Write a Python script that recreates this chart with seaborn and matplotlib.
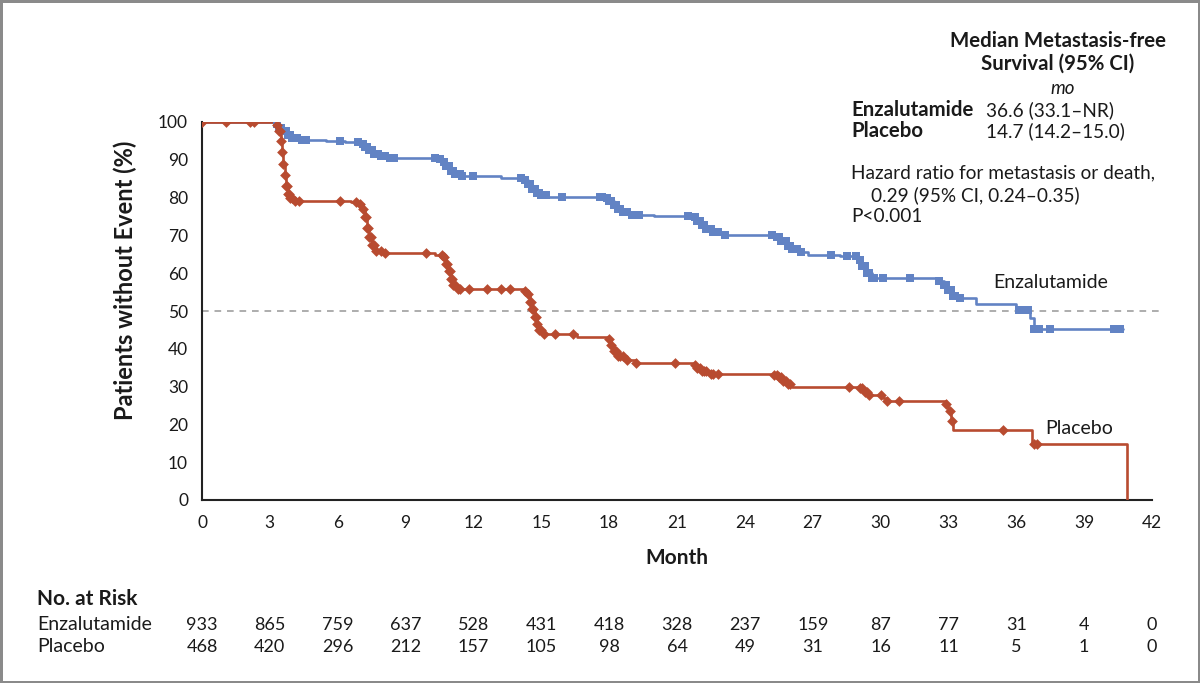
import numpy as np
import pandas as pd
import matplotlib
matplotlib.use("Agg")
import matplotlib.pyplot as plt
import seaborn as sns

# ---------------- data ----------------
enz_t = [0, 3.2, 3.4, 3.6, 3.8, 4.0, 4.3, 5.5, 6.3, 7.0, 7.2, 7.4, 7.6, 7.9, 8.2,
         10.4, 10.6, 10.8, 11.0, 11.2, 11.5, 13.2, 14.2, 14.4, 14.6, 14.8, 15.0, 15.3,
         17.8, 18.0, 18.2, 18.4, 18.6, 19.0, 20.0, 21.6, 21.9, 22.1, 22.3, 22.6, 23.0,
         24.5, 25.3, 25.6, 25.9, 26.1, 26.4, 26.8, 28.2, 29.0, 29.2, 29.4, 29.6,
         32.6, 32.8, 33.0, 33.2, 33.4, 34.2, 36.0, 36.6, 36.8, 40.7]
enz_s = [100, 99.5, 98.5, 97.5, 96.5, 95.8, 95.3, 95.0, 94.6, 94.3, 93.5, 92.5, 91.6, 91.0, 90.6,
         90.3, 89.5, 88.3, 87.0, 86.2, 85.8, 85.3, 84.7, 83.5, 82.3, 81.3, 80.6, 80.2,
         79.8, 79.0, 78.0, 77.0, 76.2, 75.5, 75.2, 74.9, 73.8, 72.8, 71.8, 71.0, 70.2,
         70.0, 69.6, 68.5, 67.3, 66.3, 65.5, 64.9, 64.5, 63.5, 62.0, 60.0, 58.8,
         58.0, 57.0, 55.5, 54.0, 53.4, 51.9, 50.3, 48.2, 45.2, 45.2]

plc_t = [0, 3.2, 3.4, 3.5, 3.55, 3.6, 3.65, 3.7, 3.8, 3.9, 4.1, 6.6, 7.0, 7.1, 7.2, 7.3, 7.4,
         7.5, 7.7, 8.0, 10.3, 10.7, 10.8, 10.9, 11.0, 11.1, 11.3, 14.3, 14.4, 14.5, 14.6,
         14.7, 14.8, 14.9, 15.1, 16.6, 18.0, 18.1, 18.2, 18.4, 18.7, 19.2, 21.8, 21.9,
         22.1, 22.4, 25.3, 25.5, 25.7, 25.9, 26.1, 29.1, 29.3, 29.5, 30.1, 30.3, 32.9,
         33.0, 33.1, 33.2, 36.7, 40.9, 40.9]
plc_s = [100, 99.3, 97.5, 95, 92, 89, 86, 83, 81, 80, 79.2, 78.8, 78.2, 77, 75, 72, 69.5,
         67.5, 66, 65.3, 64.8, 64.2, 62.5, 60.5, 58.5, 57, 55.8, 55.4, 54.5, 52.5, 50.5,
         48.5, 46.5, 45, 43.8, 43.0, 42.6, 41, 39.5, 38, 37, 36.2, 35.8, 35,
         34, 33.4, 33.2, 32.5, 31.6, 30.8, 30.0, 29.6, 28.6, 27.8, 27.0, 26.2, 25.5,
         23.5, 21.0, 18.5, 14.7, 14.7, 0]

enz_cens = [3.3, 3.4, 3.5, 3.6, 3.65, 3.7, 3.8, 3.9, 4.0, 4.1, 4.2, 4.4, 4.6,
            6.1, 6.9, 7.1, 7.2, 7.3, 7.4, 7.5, 7.6, 7.7, 7.8, 7.9, 8.0, 8.1, 8.3, 8.5,
            10.3, 10.5, 10.7, 10.8, 10.9, 11.0, 11.1, 11.2, 11.3, 11.4, 11.5, 12.0,
            14.1, 14.3, 14.4, 14.5, 14.6, 14.7, 14.8, 14.9, 15.0, 15.1, 15.2, 15.9, 17.6,
            17.7, 17.9, 18.0, 18.1, 18.2, 18.3, 18.4, 18.5, 18.6, 18.8, 19.0, 19.3,
            21.5, 21.8, 21.9, 22.0, 22.1, 22.2, 22.3, 22.4, 22.5, 22.6, 22.8, 23.1,
            25.2, 25.4, 25.5, 25.6, 25.7, 25.8, 25.9, 26.0, 26.1, 26.2, 26.3, 26.5,
            27.8, 28.5, 28.9, 29.1, 29.2, 29.3, 29.4, 29.5, 29.6, 29.7, 30.1, 31.3,
            32.6, 32.8, 32.9, 33.0, 33.1, 33.2, 33.3, 33.5,
            36.1, 36.2, 36.3, 36.4, 36.5, 36.8, 36.9, 37.0, 37.5, 40.3, 40.6]
plc_cens = [0, 1.05, 2.1, 2.3, 3.3, 3.4, 3.45, 3.5, 3.55, 3.6, 3.65, 3.7, 3.75, 3.8, 3.85,
            3.9, 4.0, 4.1, 4.3, 6.1, 6.8, 7.0, 7.1, 7.2, 7.25, 7.3, 7.35, 7.4, 7.45, 7.5,
            7.6, 7.7, 7.9, 8.1, 9.9, 10.6, 10.7, 10.8, 10.85, 10.9, 10.95, 11.0, 11.05,
            11.1, 11.2, 11.3, 11.4, 11.8, 12.6, 13.2, 13.6, 14.3, 14.4, 14.5, 14.55, 14.6,
            14.65, 14.7, 14.75, 14.8, 14.9, 15.0, 15.1, 15.6, 16.4, 18.0, 18.1, 18.2,
            18.3, 18.4, 18.5, 18.6, 18.8, 19.2, 20.9, 21.8, 21.9, 22.0, 22.1, 22.2, 22.3,
            22.5, 22.6, 22.8, 25.3, 25.4, 25.5, 25.6, 25.7, 25.8, 25.9, 26.0, 28.6, 29.1,
            29.2, 29.3, 29.4, 29.5, 30.0, 30.3, 30.8, 32.9, 33.05, 33.15, 35.4, 36.8, 36.9]

risk_months = [0, 3, 6, 9, 12, 15, 18, 21, 24, 27, 30, 33, 36, 39, 42]
risk_enz = [933, 865, 759, 637, 528, 431, 418, 328, 237, 159, 87, 77, 31, 4, 0]
risk_plc = [468, 420, 296, 212, 157, 105, 98, 64, 49, 31, 16, 11, 5, 1, 0]

BLUE = "#6283c4"
RED = "#b84b30"
INK = "#1a1a1a"


def step_at(times, surv, q):
    idx = np.searchsorted(np.asarray(times), np.asarray(q), side="right") - 1
    return np.asarray(surv)[np.clip(idx, 0, len(surv) - 1)]


sns.set_theme(style="white")
plt.rcParams["font.family"] = ["Lato", "DejaVu Sans"]

fig = plt.figure(figsize=(12, 6.83), dpi=100, facecolor="white",
                 edgecolor="#8a8a8a", linewidth=2.5)
ax = fig.add_axes([202 / 1200, 1 - 500 / 683, 950 / 1200, 378 / 683])
ax.set_facecolor("white")

ax.plot([0, 42.3], [50, 50], color="#a0a0a0", lw=1.2, ls=(0, (4, 3.5)), zorder=1,
        clip_on=False)

enz_df = pd.DataFrame({"t": enz_t, "s": enz_s})
plc_df = pd.DataFrame({"t": plc_t, "s": plc_s})
sns.lineplot(data=enz_df, x="t", y="s", drawstyle="steps-post", estimator=None,
             sort=False, color=BLUE, lw=1.9, ax=ax, zorder=3)
sns.lineplot(data=plc_df, x="t", y="s", drawstyle="steps-post", estimator=None,
             sort=False, color=RED, lw=1.9, ax=ax, zorder=4)

enz_c = pd.DataFrame({"t": enz_cens, "s": step_at(enz_t, enz_s, enz_cens)})
plc_c = pd.DataFrame({"t": plc_cens, "s": step_at(plc_t, plc_s, plc_cens)})
sns.scatterplot(data=enz_c, x="t", y="s", marker="s", s=32, color=BLUE,
                edgecolor=BLUE, linewidth=0, ax=ax, zorder=5)
sns.scatterplot(data=plc_c, x="t", y="s", marker="D", s=30, color=RED,
                edgecolor=RED, linewidth=0, ax=ax, zorder=6)

ax.set_xlim(0, 42)
ax.set_ylim(0, 100)
ax.set_xticks(risk_months)
ax.set_yticks(range(0, 101, 10))
ax.tick_params(axis="both", direction="out", length=7, width=1.5, colors="#222222",
               labelsize=12.5, labelcolor=INK)
ax.tick_params(axis="x", pad=4)
ax.tick_params(axis="y", pad=3)
for sp in ["top", "right"]:
    ax.spines[sp].set_visible(False)
for sp in ["left", "bottom"]:
    ax.spines[sp].set_color("#222222")
    ax.spines[sp].set_linewidth(1.5)
ax.set_xlabel("Month", fontsize=15, fontweight="bold", labelpad=12, color=INK)
ax.set_ylabel("Patients without Event (%)", fontsize=17, fontweight="bold", color=INK)
ax.yaxis.set_label_coords(-0.068, 0.58)

# curve labels
ax.text(35.0, 57.5, "Enzalutamide", fontsize=14, ha="left", va="center", color=INK)
ax.text(37.3, 19.0, "Placebo", fontsize=14, ha="left", va="center", color=INK)


def ftxt(x, y, s, **kw):
    fig.text(x / 1200, 1 - y / 683, s, color=INK, va="center", **kw)


# annotation block
ftxt(1058, 41, "Median Metastasis-free", fontsize=14.7, fontweight="bold", ha="center")
ftxt(1058, 64, "Survival (95% CI)", fontsize=14.7, fontweight="bold", ha="center")
ftxt(1063, 89, "mo", fontsize=13.5, style="italic", ha="center")
ftxt(851, 110, "Enzalutamide", fontsize=14.7, fontweight="bold", ha="left")
ftxt(986, 110, "36.6 (33.1\u2013NR)", fontsize=13.7, ha="left")
ftxt(851, 131, "Placebo", fontsize=14.7, fontweight="bold", ha="left")
ftxt(986, 131, "14.7 (14.2\u201315.0)", fontsize=13.7, ha="left")
ftxt(851, 173, "Hazard ratio for metastasis or death,", fontsize=13.7, ha="left")
ftxt(871, 195, "0.29 (95% CI, 0.24\u20130.35)", fontsize=13.7, ha="left")
ftxt(851, 216, "P<0.001", fontsize=13.7, ha="left")

# number at risk table
ftxt(37, 599, "No. at Risk", fontsize=15, fontweight="bold", ha="left")
ftxt(37, 625, "Enzalutamide", fontsize=14, ha="left")
ftxt(37, 647, "Placebo", fontsize=14, ha="left")
for m, a, b in zip(risk_months, risk_enz, risk_plc):
    xp = 202 + m * 950 / 42
    ftxt(xp, 625, str(a), fontsize=13, ha="center")
    ftxt(xp, 647, str(b), fontsize=13, ha="center")

fig.savefig("out.png", dpi=100)
